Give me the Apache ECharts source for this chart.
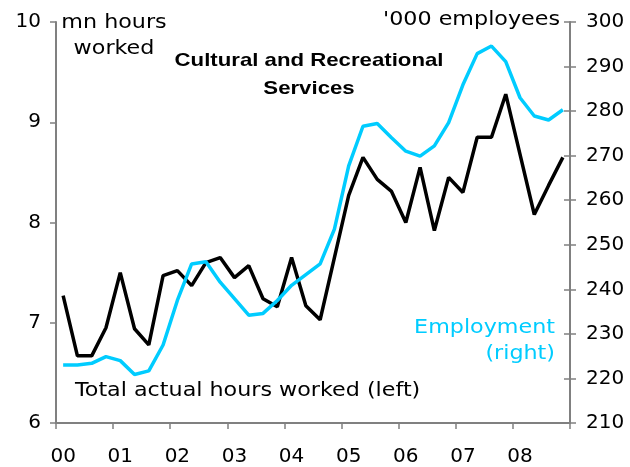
<!DOCTYPE html>
<html>
<head>
<meta charset="utf-8">
<script src="https://cdn.jsdelivr.net/npm/echarts@6/dist/echarts.min.js"></script>
<style>
  html, body { margin: 0; padding: 0; background: #fff; }
  #chart { width: 630px; height: 467px; }
</style>
</head>
<body>
<div id="chart"></div>
<script>
// Quarterly observations, 2000 Q1 to 2008 Q4
const years = ['00', '01', '02', '03', '04', '05', '06', '07', '08'];
const quarters = years.flatMap(y => ['Q1', 'Q2', 'Q3', 'Q4'].map(q => y + q));

// Total actual hours worked, mn (left axis)
const hoursWorked = [
  7.27, 6.67, 6.67, 6.95, 7.50, 6.94, 6.78, 7.47,
  7.52, 7.37, 7.60, 7.65, 7.45, 7.57, 7.24, 7.16,
  7.65, 7.17, 7.03, 7.65, 8.27, 8.65, 8.43, 8.31,
  8.00, 8.55, 7.92, 8.45, 8.30, 8.85, 8.85, 9.28,
  8.68, 8.08, 8.37, 8.65
];

// Employment, '000 employees (right axis)
const employment = [
  223.0, 223.0, 223.4, 224.9, 224.0, 220.9, 221.7, 227.5,
  237.5, 245.7, 246.2, 241.6, 237.9, 234.2, 234.6, 237.5,
  240.9, 243.3, 245.7, 253.5, 267.7, 276.6, 277.2, 274.0,
  271.0, 269.9, 272.2, 277.4, 285.9, 292.9, 294.6, 291.1,
  283.0, 278.9, 278.0, 280.3
];

const AXIS_GREY = '#808080';
const BLACK_LINE = '#000000';
const CYAN_LINE = '#00CCFF';
const FONT = '"DejaVu Sans", Verdana, sans-serif';
const TITLE_FONT = '"Liberation Sans", Arial, sans-serif';

const chart = echarts.init(document.getElementById('chart'), null, { renderer: 'canvas' });

// Annotation text; widened slightly with scaleX, anchored at (x, baseline)
function note(text, x, baseline, align, color, size, bold, sx, family) {
  return {
    type: 'text',
    x: x,
    y: baseline - 0.346 * size,
    scaleX: sx,
    silent: true,
    style: {
      text: text,
      fill: color,
      font: (bold ? 'bold ' : '') + size + 'px ' + family,
      textAlign: align,
      textVerticalAlign: 'middle'
    }
  };
}

const option = {
  animation: false,
  backgroundColor: '#ffffff',
  grid: { left: 56, right: 60, top: 22, bottom: 42, containLabel: false },
  xAxis: {
    type: 'category',
    data: quarters,
    boundaryGap: true,
    axisLine: { show: true, lineStyle: { color: AXIS_GREY, width: 2 } },
    axisTick: { show: true, interval: 3, length: 6, lineStyle: { color: AXIS_GREY, width: 1.5 } },
    axisLabel: {
      interval: 3,
      formatter: v => v.slice(0, 2),
      fontSize: 20,
      fontFamily: FONT,
      color: '#000',
      margin: 24
    },
    splitLine: { show: false }
  },
  yAxis: [
    {
      type: 'value',
      position: 'left',
      min: 6, max: 10, interval: 1,
      axisLine: { show: true, lineStyle: { color: AXIS_GREY, width: 2 } },
      axisTick: { show: true, length: 6, lineStyle: { color: AXIS_GREY, width: 1.5 } },
      axisLabel: { fontSize: 20, fontFamily: FONT, color: '#000', margin: 15 },
      splitLine: { show: false }
    },
    {
      type: 'value',
      position: 'right',
      min: 210, max: 300, interval: 10,
      axisLine: { show: true, lineStyle: { color: AXIS_GREY, width: 2 } },
      axisTick: { show: true, length: 6, lineStyle: { color: AXIS_GREY, width: 1.5 } },
      axisLabel: { fontSize: 20, fontFamily: FONT, color: '#000', margin: 16 },
      splitLine: { show: false }
    },
    {
      // inner half of the right-hand cross ticks
      type: 'value',
      position: 'right',
      min: 210, max: 300, interval: 10,
      axisLine: { show: false },
      axisTick: { show: true, inside: true, length: 6, lineStyle: { color: AXIS_GREY, width: 1.5 } },
      axisLabel: { show: false },
      splitLine: { show: false }
    }
  ],
  series: [
    {
      name: 'Total actual hours worked (left)',
      type: 'line',
      yAxisIndex: 0,
      data: hoursWorked,
      symbol: 'none',
      lineStyle: { color: BLACK_LINE, width: 3.5 },
      itemStyle: { color: BLACK_LINE },
      z: 2
    },
    {
      name: 'Employment (right)',
      type: 'line',
      yAxisIndex: 1,
      data: employment,
      symbol: 'none',
      lineStyle: { color: CYAN_LINE, width: 3.5 },
      itemStyle: { color: CYAN_LINE },
      z: 3
    }
  ],
  graphic: [
    note('mn hours', 114, 30, 'center', '#000', 19, false, 1.17, FONT),
    note('worked', 114, 56, 'center', '#000', 19, false, 1.17, FONT),
    note("'000 employees", 560, 27, 'right', '#000', 19, false, 1.17, FONT),
    note('Cultural and Recreational', 309, 67.5, 'center', '#000', 18.5, true, 1.2, TITLE_FONT),
    note('Services', 309, 95, 'center', '#000', 18.5, true, 1.2, TITLE_FONT),
    note('Employment', 555, 335, 'right', CYAN_LINE, 19, false, 1.17, FONT),
    note('(right)', 555, 361, 'right', CYAN_LINE, 19, false, 1.17, FONT),
    note('Total actual hours worked (left)', 75, 398, 'left', '#000', 19, false, 1.17, FONT)
  ]
};

chart.setOption(option);
</script>
</body>
</html>
